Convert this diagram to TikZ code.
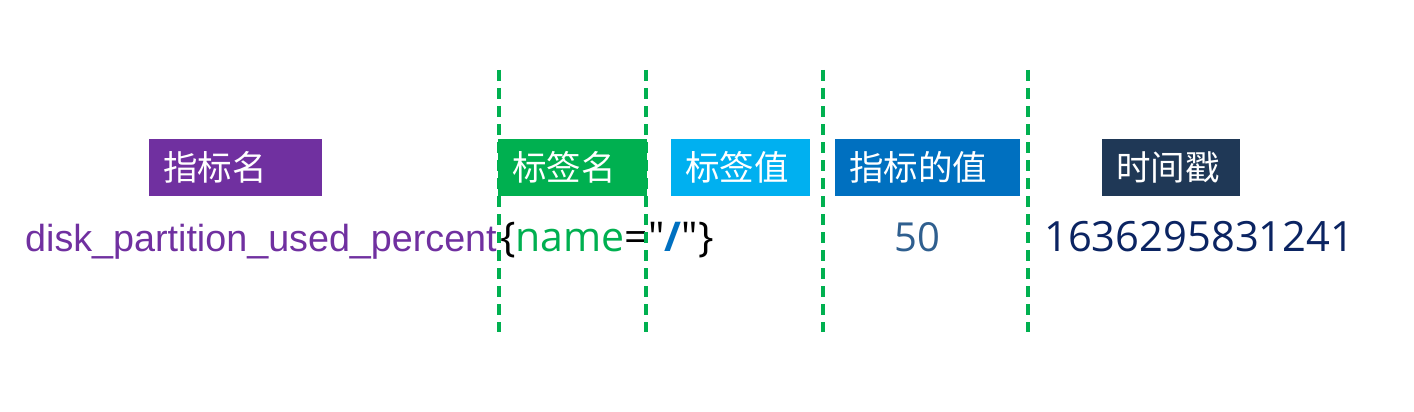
\documentclass[tikz,border=0pt]{standalone}
\usepackage{fontspec}
\usepackage{graphicx}
\setmainfont{Liberation Sans}
\newfontfamily\cjk{Noto Sans CJK SC}
\newfontfamily\segoe{Open Sans}
\definecolor{cpurple}{HTML}{7030A0}
\definecolor{cgreen}{HTML}{00B050}
\definecolor{clblue}{HTML}{00B0F0}
\definecolor{cblue}{HTML}{0070C0}
\definecolor{cnavy}{HTML}{1F3856}
\definecolor{csteel}{HTML}{2F5F8F}
\definecolor{cdark}{HTML}{0B2462}
\begin{document}
\begin{tikzpicture}[x=1pt,y=-1pt,
  tag/.style={inner xsep=14pt, inner ysep=0pt, minimum height=57pt, align=left, text=white, font=\cjk\fontsize{34.5}{35}\selectfont},
  sep/.style={draw=cgreen, line width=3.5pt, dash pattern=on 11pt off 7pt},
  row/.style={inner sep=0pt, anchor=base west}]
\useasboundingbox (0,0) rectangle (1414,412);
\fill[white] (0,0) rectangle (1414,412);
% label boxes
\node[tag, fill=cpurple, text width=145pt] (mname) at (235.5,167.5) {指标名};
\node[tag, fill=cgreen, text width=121pt] (lname) at (572.5,167.5) {标签名};
\node[tag, fill=clblue, text width=111pt] (lval) at (740.5,167.5) {标签值};
\node[tag, fill=cblue, text width=157pt] (mval) at (927.5,167.5) {指标的值};
\node[tag, fill=cnavy, text width=110pt] (ts) at (1171,167.5) {时间戳};
% row text
\node[row, text=cpurple] (metric) at (25,251) {\fontsize{37.7}{38}\selectfont disk\_partition\_used\_percent};
\node[row] (labels) at (500,251) {\segoe\fontsize{41}{41}\selectfont \{\textcolor{cgreen}{name}=\char"0022\textcolor{cblue}{\bfseries /}\char"0022\}};
\node[row, text=csteel, anchor=base] (value) at (917,251) {\segoe\fontsize{40}{40}\selectfont 50};
\node[row, text=cdark] (time) at (1044,251) {\segoe\fontsize{41.7}{42}\selectfont 1636295831241};
% separators
\coordinate (s1t) at (499,70); \coordinate (s1b) at (499,332);
\coordinate (s2t) at (646,70); \coordinate (s2b) at (646,332);
\coordinate (s3t) at (823,70); \coordinate (s3b) at (823,332);
\coordinate (s4t) at (1028,70); \coordinate (s4b) at (1028,332);
\draw[sep] (s1t) -- (s1b);
\draw[sep] (s2t) -- (s2b);
\draw[sep] (s3t) -- (s3b);
\draw[sep] (s4t) -- (s4b);
\end{tikzpicture}
\end{document}
